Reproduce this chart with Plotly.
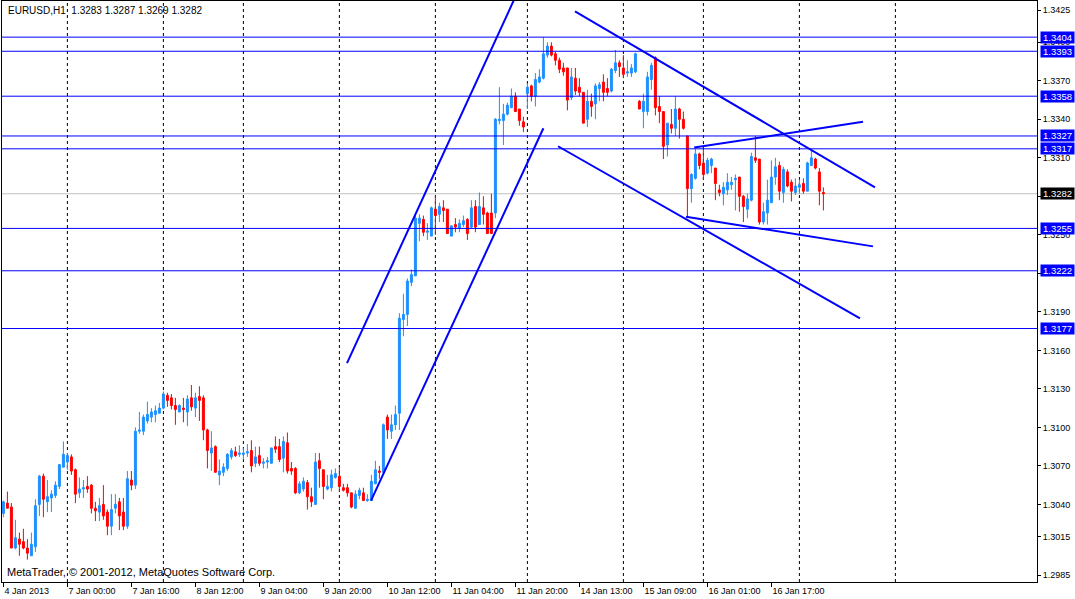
import plotly.graph_objects as go

# EURUSD H1, 4 Jan 2013 08:00 .. 16 Jan 2013 (bar index on x)
opens = [1.3033, 1.3041, 1.3038, 1.3006, 1.3013, 1.3011, 1.3006, 1.3000, 1.3007, 1.3040,
         1.3062, 1.3042, 1.3045, 1.3047, 1.3054, 1.3069, 1.3073, 1.3077, 1.3067, 1.3049,
         1.3052, 1.3054, 1.3055, 1.3037, 1.3034, 1.3040, 1.3034, 1.3023, 1.3037, 1.3042,
         1.3034, 1.3023, 1.3059, 1.3055, 1.3097, 1.3097, 1.3105, 1.3108, 1.3110, 1.3111,
         1.3115, 1.3125, 1.3123, 1.3117, 1.3112, 1.3115, 1.3112, 1.3123, 1.3115, 1.3124,
         1.3123, 1.3098, 1.3080, 1.3085, 1.3063, 1.3065, 1.3068, 1.3077, 1.3081, 1.3079,
         1.3079, 1.3080, 1.3082, 1.3072, 1.3078, 1.3072, 1.3073, 1.3072, 1.3085, 1.3085,
         1.3076, 1.3088, 1.3068, 1.3068, 1.3049, 1.3052, 1.3057, 1.3046, 1.3040, 1.3074,
         1.3067, 1.3052, 1.3053, 1.3061, 1.3062, 1.3053, 1.3053, 1.3049, 1.3037, 1.3047,
         1.3049, 1.3043, 1.3043, 1.3056, 1.3066, 1.3065, 1.3108, 1.3097, 1.3102, 1.3111,
         1.3184, 1.3188, 1.3213, 1.3218, 1.3259, 1.3262, 1.3252, 1.3249, 1.3270, 1.3266,
         1.3271, 1.3270, 1.3249, 1.3258, 1.3255, 1.3258, 1.3262, 1.3256, 1.3272, 1.3258,
         1.3271, 1.3267, 1.3267, 1.3267, 1.3339, 1.3339, 1.3344, 1.3349, 1.3358, 1.3348,
         1.3338, 1.3360, 1.3366, 1.3358, 1.3369, 1.3372, 1.3390, 1.3397, 1.3391, 1.3386,
         1.3380, 1.3380, 1.3357, 1.3372, 1.3365, 1.3361, 1.3340, 1.3354, 1.3352, 1.3364,
         1.3369, 1.3364, 1.3362, 1.3378, 1.3384, 1.3380, 1.3376, 1.3376, 1.3377, 1.3354,
         1.3346, 1.3346, 1.3371, 1.3388, 1.3350, 1.3346, 1.3320, 1.3336, 1.3333, 1.3348,
         1.3340, 1.3327, 1.3286, 1.3294, 1.3313, 1.3306, 1.3298, 1.3304, 1.3302, 1.3285,
         1.3282, 1.3285, 1.3289, 1.3293, 1.3295, 1.3280, 1.3270, 1.3277, 1.3310, 1.3309,
         1.3260, 1.3267, 1.3275, 1.3295, 1.3304, 1.3283, 1.3299, 1.3291, 1.3283, 1.3287,
         1.3290, 1.3284, 1.3304, 1.3309, 1.3299, 1.3283]
highs = [1.3043, 1.3050, 1.3041, 1.3028, 1.3018, 1.3021, 1.3013, 1.3018, 1.3044, 1.3063,
         1.3064, 1.3059, 1.3051, 1.3058, 1.3071, 1.3089, 1.3080, 1.3079, 1.3068, 1.3061,
         1.3059, 1.3062, 1.3056, 1.3042, 1.3045, 1.3055, 1.3036, 1.3048, 1.3048, 1.3045,
         1.3045, 1.3066, 1.3066, 1.3100, 1.3112, 1.3110, 1.3120, 1.3115, 1.3117, 1.3119,
         1.3128, 1.3127, 1.3126, 1.3123, 1.3118, 1.3123, 1.3125, 1.3133, 1.3127, 1.3132,
         1.3125, 1.3099, 1.3097, 1.3086, 1.3075, 1.3072, 1.3080, 1.3084, 1.3085, 1.3086,
         1.3084, 1.3087, 1.3090, 1.3085, 1.3085, 1.3076, 1.3077, 1.3084, 1.3093, 1.3091,
         1.3093, 1.3096, 1.3073, 1.3069, 1.3058, 1.3061, 1.3059, 1.3053, 1.3080, 1.3080,
         1.3067, 1.3063, 1.3067, 1.3068, 1.3069, 1.3056, 1.3056, 1.3049, 1.3051, 1.3053,
         1.3053, 1.3048, 1.3063, 1.3074, 1.3070, 1.3103, 1.3110, 1.3110, 1.3117, 1.3189,
         1.3204, 1.3216, 1.3223, 1.3267, 1.3266, 1.3265, 1.3259, 1.3272, 1.3280, 1.3275,
         1.3277, 1.3270, 1.3257, 1.3263, 1.3262, 1.3265, 1.3263, 1.3277, 1.3277, 1.3283,
         1.3280, 1.3268, 1.3282, 1.3341, 1.3365, 1.3352, 1.3353, 1.3364, 1.3361, 1.3348,
         1.3342, 1.3368, 1.3367, 1.3376, 1.3379, 1.3404, 1.3400, 1.3400, 1.3393, 1.3388,
         1.3384, 1.3380, 1.3380, 1.3380, 1.3372, 1.3361, 1.3363, 1.3360, 1.3368, 1.3369,
         1.3375, 1.3372, 1.3380, 1.3394, 1.3386, 1.3390, 1.3386, 1.3383, 1.3392, 1.3355,
         1.3360, 1.3377, 1.3384, 1.3389, 1.3358, 1.3346, 1.3337, 1.3348, 1.3358, 1.3349,
         1.3346, 1.3327, 1.3298, 1.3317, 1.3314, 1.3317, 1.3310, 1.3310, 1.3302, 1.3289,
         1.3291, 1.3298, 1.3295, 1.3297, 1.3295, 1.3281, 1.3282, 1.3314, 1.3327, 1.3309,
         1.3275, 1.3293, 1.3308, 1.3310, 1.3307, 1.3303, 1.3301, 1.3293, 1.3294, 1.3293,
         1.3294, 1.3307, 1.3316, 1.3310, 1.3302, 1.3287]
lows = [1.3030, 1.3037, 1.3006, 1.3005, 1.3000, 1.3005, 1.2997, 1.3000, 1.3003, 1.3031,
        1.3030, 1.3034, 1.3034, 1.3045, 1.3052, 1.3069, 1.3067, 1.3063, 1.3041, 1.3045,
        1.3045, 1.3049, 1.3033, 1.3027, 1.3027, 1.3028, 1.3016, 1.3016, 1.3033, 1.3020,
        1.3020, 1.3021, 1.3051, 1.3052, 1.3095, 1.3094, 1.3103, 1.3104, 1.3104, 1.3111,
        1.3114, 1.3116, 1.3114, 1.3102, 1.3112, 1.3104, 1.3101, 1.3113, 1.3108, 1.3105,
        1.3090, 1.3068, 1.3066, 1.3065, 1.3055, 1.3062, 1.3066, 1.3075, 1.3077, 1.3077,
        1.3075, 1.3077, 1.3065, 1.3069, 1.3070, 1.3068, 1.3068, 1.3072, 1.3080, 1.3073,
        1.3065, 1.3064, 1.3063, 1.3048, 1.3048, 1.3050, 1.3036, 1.3038, 1.3040, 1.3053,
        1.3044, 1.3051, 1.3050, 1.3060, 1.3050, 1.3050, 1.3046, 1.3037, 1.3037, 1.3044,
        1.3043, 1.3042, 1.3043, 1.3056, 1.3060, 1.3063, 1.3091, 1.3091, 1.3098, 1.3098,
        1.3171, 1.3179, 1.3210, 1.3218, 1.3245, 1.3249, 1.3246, 1.3249, 1.3250, 1.3260,
        1.3260, 1.3251, 1.3249, 1.3252, 1.3252, 1.3256, 1.3246, 1.3255, 1.3252, 1.3258,
        1.3258, 1.3251, 1.3251, 1.3263, 1.3336, 1.3320, 1.3343, 1.3349, 1.3346, 1.3335,
        1.3330, 1.3348, 1.3354, 1.3350, 1.3368, 1.3371, 1.3388, 1.3389, 1.3382, 1.3376,
        1.3374, 1.3347, 1.3355, 1.3359, 1.3358, 1.3337, 1.3334, 1.3342, 1.3340, 1.3354,
        1.3354, 1.3358, 1.3361, 1.3376, 1.3373, 1.3372, 1.3373, 1.3373, 1.3376, 1.3348,
        1.3333, 1.3343, 1.3363, 1.3343, 1.3337, 1.3309, 1.3311, 1.3329, 1.3327, 1.3325,
        1.3332, 1.3263, 1.3275, 1.3293, 1.3301, 1.3293, 1.3297, 1.3298, 1.3277, 1.3280,
        1.3273, 1.3281, 1.3285, 1.3269, 1.3268, 1.3260, 1.3263, 1.3276, 1.3306, 1.3258,
        1.3258, 1.3258, 1.3275, 1.3289, 1.3277, 1.3275, 1.3287, 1.3276, 1.3281, 1.3282,
        1.3282, 1.3284, 1.3304, 1.3301, 1.3273, 1.3269]
closes = [1.3042, 1.3037, 1.3006, 1.3014, 1.3009, 1.3006, 1.3002, 1.3009, 1.3039, 1.3062,
          1.3044, 1.3046, 1.3048, 1.3055, 1.3071, 1.3079, 1.3078, 1.3066, 1.3048, 1.3052,
          1.3053, 1.3052, 1.3037, 1.3035, 1.3039, 1.3031, 1.3023, 1.3036, 1.3040, 1.3031,
          1.3023, 1.3060, 1.3055, 1.3097, 1.3098, 1.3108, 1.3110, 1.3112, 1.3113, 1.3115,
          1.3126, 1.3121, 1.3117, 1.3114, 1.3117, 1.3114, 1.3122, 1.3116, 1.3123, 1.3121,
          1.3098, 1.3082, 1.3084, 1.3065, 1.3066, 1.3069, 1.3079, 1.3082, 1.3078, 1.3080,
          1.3080, 1.3081, 1.3070, 1.3077, 1.3072, 1.3073, 1.3074, 1.3084, 1.3083, 1.3075,
          1.3089, 1.3066, 1.3066, 1.3049, 1.3056, 1.3058, 1.3046, 1.3042, 1.3073, 1.3068,
          1.3054, 1.3054, 1.3063, 1.3064, 1.3054, 1.3051, 1.3049, 1.3038, 1.3048, 1.3051,
          1.3043, 1.3044, 1.3058, 1.3067, 1.3065, 1.3102, 1.3098, 1.3102, 1.3110, 1.3185,
          1.3188, 1.3214, 1.3219, 1.3263, 1.3263, 1.3252, 1.3253, 1.3271, 1.3265, 1.3272,
          1.3269, 1.3251, 1.3257, 1.3256, 1.3259, 1.3261, 1.3251, 1.3271, 1.3256, 1.3272,
          1.3266, 1.3251, 1.3251, 1.3340, 1.3340, 1.3344, 1.3351, 1.3358, 1.3346, 1.3339,
          1.3334, 1.3365, 1.3358, 1.3371, 1.3373, 1.3391, 1.3397, 1.3390, 1.3386, 1.3379,
          1.3377, 1.3355, 1.3373, 1.3362, 1.3361, 1.3337, 1.3354, 1.3350, 1.3366, 1.3367,
          1.3361, 1.3361, 1.3379, 1.3384, 1.3381, 1.3375, 1.3377, 1.3380, 1.3391, 1.3348,
          1.3354, 1.3373, 1.3382, 1.3349, 1.3346, 1.3319, 1.3337, 1.3333, 1.3348, 1.3340,
          1.3333, 1.3286, 1.3297, 1.3313, 1.3304, 1.3297, 1.3308, 1.3309, 1.3290, 1.3283,
          1.3287, 1.3291, 1.3291, 1.3294, 1.3280, 1.3272, 1.3278, 1.3311, 1.3308, 1.3260,
          1.3268, 1.3277, 1.3295, 1.3303, 1.3284, 1.3301, 1.3288, 1.3284, 1.3288, 1.3289,
          1.3284, 1.3306, 1.3310, 1.3302, 1.3284, 1.3282]
bars = list(range(len(closes)))

time_tick_bars = [0, 16, 32, 48, 64, 80, 96, 112, 128, 144, 160, 176, 192]
time_tick_labels = ["4 Jan 2013", "7 Jan 00:00", "7 Jan 16:00", "8 Jan 12:00", "9 Jan 04:00",
                    "9 Jan 20:00", "10 Jan 12:00", "11 Jan 04:00", "11 Jan 20:00",
                    "14 Jan 13:00", "15 Jan 09:00", "16 Jan 01:00", "16 Jan 17:00"]
day_start_bars = [16, 40, 60, 84, 108, 131, 155, 175, 199, 223]

price_ticks = [1.3425, 1.3400, 1.3370, 1.3340, 1.3310, 1.3280, 1.3250, 1.3220, 1.3190,
               1.3160, 1.3130, 1.3100, 1.3070, 1.3040, 1.3015, 1.2985]
levels = [1.3404, 1.3393, 1.3358, 1.3327, 1.3317, 1.3255, 1.3222, 1.3177]
bid = 1.3282

# trend lines: (bar, price) end points
trendlines = {
    "channel top": ([85.9, 130.0], [1.3150, 1.3449]),
    "channel bottom": ([91.9, 135.0], [1.3043, 1.3333]),
    "down top": ([142.9, 217.9], [1.3424, 1.3287]),
    "down bottom": ([138.65, 214.15], [1.3319, 1.3185]),
    "triangle top": ([172.7, 214.9], [1.3318, 1.3338]),
    "triangle bottom": ([170.65, 217.4], [1.3264, 1.3241]),
}

BULL = "#1E90FF"
BEAR = "#FF0000"
LINE = "#0000FF"
FONT = "Liberation Sans"

fig = go.Figure()
fig.add_trace(go.Candlestick(
    x=bars, open=opens, high=highs, low=lows, close=closes,
    increasing=dict(line=dict(color=BULL, width=1), fillcolor=BULL),
    decreasing=dict(line=dict(color=BEAR, width=1), fillcolor=BEAR),
    whiskerwidth=0, hoverinfo="skip",
))

for name, (tx, ty) in trendlines.items():
    fig.add_trace(go.Scatter(x=tx, y=ty, mode="lines", name=name,
                             line=dict(color=LINE, width=2), hoverinfo="skip"))

shapes = []
for b in day_start_bars:
    shapes.append(dict(type="line", xref="x", yref="paper", x0=b, x1=b, y0=0, y1=1,
                       line=dict(color="black", width=1, dash="3px,3px"), layer="below"))
shapes.append(dict(type="line", xref="paper", yref="y", x0=0, x1=1, y0=bid, y1=bid,
                   line=dict(color="#C0C0C0", width=1), layer="below"))
for lv in levels:
    shapes.append(dict(type="line", xref="paper", yref="y", x0=0, x1=1, y0=lv, y1=lv,
                       line=dict(color=LINE, width=1), layer="above"))

annotations = []
for lv in levels:
    annotations.append(dict(xref="paper", yref="y", x=1, y=lv, xanchor="left", yanchor="middle",
                            xshift=3, text="%.4f" % lv, showarrow=False, bgcolor=LINE,
                            font=dict(family=FONT, size=9.5, color="white"),
                            width=33, height=11, borderpad=0))
annotations.append(dict(xref="paper", yref="y", x=1, y=bid, xanchor="left", yanchor="middle",
                        xshift=3, text="%.4f" % bid, showarrow=False, bgcolor="black",
                        font=dict(family=FONT, size=9.5, color="white"),
                        width=33, height=11, borderpad=0))
annotations.append(dict(xref="paper", yref="paper", x=0, y=1, xanchor="left", yanchor="top",
                        xshift=4, yshift=-2, showarrow=False,
                        text="EURUSD,H1  %.4f %.4f %.4f %.4f" % (opens[-1], highs[-1], lows[-1], closes[-1]),
                        font=dict(family=FONT, size=10, color="black")))
annotations.append(dict(xref="paper", yref="paper", x=0, y=0, xanchor="left", yanchor="bottom",
                        xshift=3, yshift=2, showarrow=False,
                        text="MetaTrader, © 2001-2012, MetaQuotes Software Corp.",
                        font=dict(family=FONT, size=11, color="black")))

fig.update_layout(
    width=1075, height=599,
    margin=dict(l=2, r=38, t=1, b=17),
    paper_bgcolor="white", plot_bgcolor="white",
    showlegend=False,
    shapes=shapes, annotations=annotations,
    font=dict(family=FONT, size=9, color="black"),
    xaxis=dict(range=[-0.35, 258.4], rangeslider=dict(visible=False),
               showgrid=False, zeroline=False, showline=True, linecolor="black",
               linewidth=1, mirror=True, ticks="outside", ticklen=4, tickcolor="black",
               tickvals=time_tick_bars, ticktext=time_tick_labels,
               ticklabelposition="outside right", tickfont=dict(family=FONT, size=9)),
    yaxis=dict(side="right", range=[1.297955, 1.343215], showgrid=False, zeroline=False,
               showline=True, linecolor="black", linewidth=1, mirror=True,
               ticks="outside", ticklen=3, tickcolor="black",
               tickvals=price_ticks, ticktext=["%.4f" % p for p in price_ticks],
               tickfont=dict(family=FONT, size=9)),
)

# the page's default body margin would push the 1075x599 figure out of the window
fig.write_html("out.html", config={"displayModeBar": False},
               post_script="document.body.style.margin='0';")
